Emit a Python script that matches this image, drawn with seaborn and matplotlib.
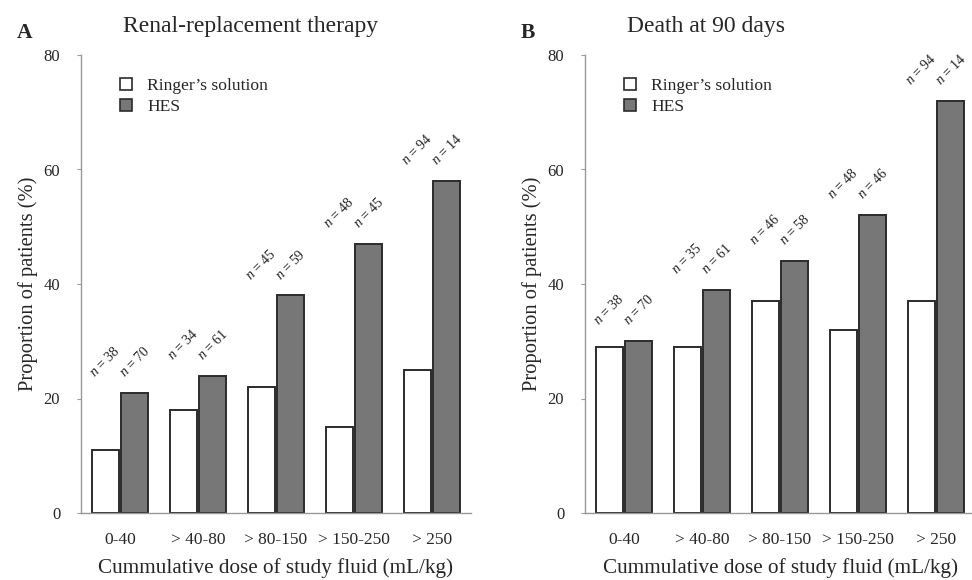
import matplotlib
matplotlib.use("Agg")
import matplotlib.pyplot as plt
import seaborn as sns
import pandas as pd

doses = ['0-40', '> 40-80', '> 80-150', '> 150-250', '> 250']
series = ['Ringer\u2019s solution', 'HES']

rrt_ringer = [11, 18, 22, 15, 25]
rrt_hes = [21, 24, 38, 47, 58]
rrt_n_ringer = [38, 34, 45, 48, 94]
rrt_n_hes = [70, 61, 59, 45, 14]

death_ringer = [29, 29, 37, 32, 37]
death_hes = [30, 39, 44, 52, 72]
death_n_ringer = [38, 35, 46, 48, 94]
death_n_hes = [70, 61, 58, 46, 14]

yticks = [0, 20, 40, 60, 80]

sns.set_theme(style="white")
plt.rcParams['font.family'] = ['Liberation Serif', 'DejaVu Serif']
plt.rcParams['mathtext.fontset'] = 'custom'
plt.rcParams['mathtext.it'] = 'Liberation Serif:italic'
plt.rcParams['mathtext.rm'] = 'Liberation Serif'

fig = plt.figure(figsize=(9.72, 5.8), dpi=100)
W, H = 972, 580
axA = fig.add_axes([81 / W, 1 - 513 / H, 390 / W, 458 / H])
axB = fig.add_axes([585 / W, 1 - 513 / H, 390 / W, 458 / H])

palette = {series[0]: 'white', series[1]: '#777777'}


def panel(ax, ringer, hes, n_r, n_h, title, title_x, letter):
    df = pd.DataFrame({
        'dose': doses * 2,
        'value': list(ringer) + list(hes),
        'fluid': [series[0]] * len(doses) + [series[1]] * len(doses),
    })
    sns.barplot(data=df, x='dose', y='value', hue='fluid', order=doses,
                hue_order=series, palette=palette, edgecolor='#2b2b2b',
                linewidth=1.4, width=0.76, gap=0.1, ax=ax, legend=True)
    ax.set_xlim(-0.5, 4.5)
    ax.set_ylim(0, 80)
    ax.set_yticks(yticks)
    ax.set_yticklabels([str(t) for t in yticks], fontsize=12)
    ax.set_xticks(range(len(doses)))
    ax.set_xticklabels(doses, fontsize=12.5)
    ax.tick_params(axis='x', length=0, pad=14)
    ax.tick_params(axis='y', length=3, width=0.8, color='#999999', pad=12,
                   left=True, direction='out')
    for s in ['top', 'right']:
        ax.spines[s].set_visible(False)
    for s in ['left', 'bottom']:
        ax.spines[s].set_color('#999999')
        ax.spines[s].set_linewidth(1.0)
    ax.set_xlabel('Cummulative dose of study fluid (mL/kg)', fontsize=15.2,
                  labelpad=7)
    ax.set_ylabel('Proportion of patients (%)', fontsize=14.8, labelpad=4)
    ax.text(title_x, 1.062, title, transform=ax.transAxes, ha='center',
            va='center', fontsize=17)
    ax.text(-0.165, 1.047, letter, transform=ax.transAxes, ha='left',
            va='center', fontsize=15.5, fontweight='bold')
    off = 0.19
    for i in range(len(doses)):
        top = max(ringer[i], hes[i]) + 2.3
        ax.text(i - off, top, r'$n$ = %d' % n_r[i], rotation=45,
                ha='center', va='bottom', fontsize=10, color='#222222')
        ax.text(i + off, top, r'$n$ = %d' % n_h[i], rotation=45,
                ha='center', va='bottom', fontsize=10, color='#222222')
    leg = ax.legend(loc='upper left', bbox_to_anchor=(0.06, 0.985),
                    frameon=False, fontsize=12.6, handlelength=0.7,
                    handleheight=0.7, handletextpad=0.85, labelspacing=0.3)
    for h in leg.legend_handles:
        h.set_edgecolor('#2b2b2b')
        h.set_linewidth(1.2)


panel(axA, rrt_ringer, rrt_hes, rrt_n_ringer, rrt_n_hes,
      'Renal-replacement therapy', 0.436, 'A')
panel(axB, death_ringer, death_hes, death_n_ringer, death_n_hes,
      'Death at 90 days', 0.31, 'B')

fig.savefig('out.png', dpi=100)
